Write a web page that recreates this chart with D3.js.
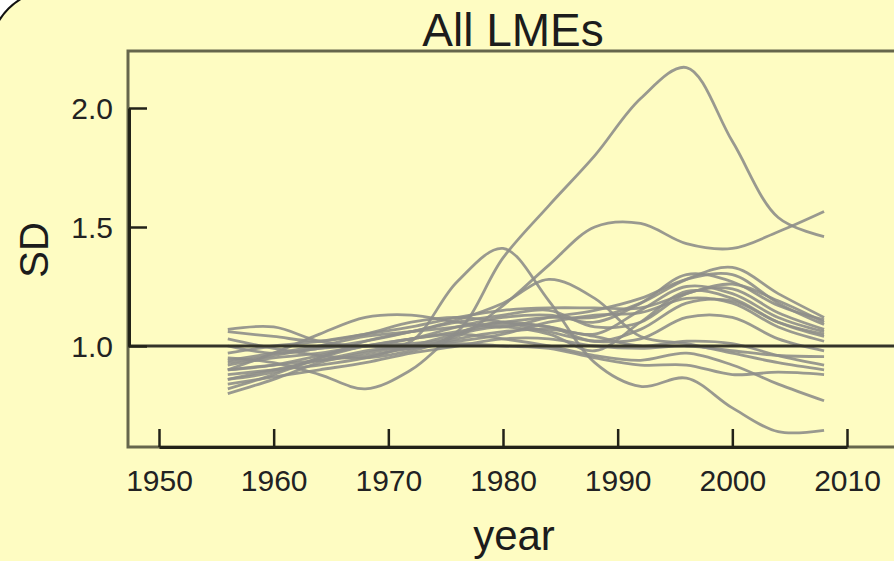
<!DOCTYPE html>
<html>
<head>
<meta charset="utf-8">
<script src="https://cdn.jsdelivr.net/npm/d3@7"></script>
<style>
  html, body { margin: 0; padding: 0; background: #ffffff; }
  svg { display: block; }
</style>
</head>
<body>
<div id="chart"></div>
<script>
// Smoothed SD trajectories per LME at 4-year knots
const years = [1956, 1960, 1964, 1968, 1972, 1976, 1980, 1984, 1988, 1992, 1996, 2000, 2004, 2008];

const lmeBigPeak = [0.93, 0.96, 0.99, 1.00, 0.99, 1.06, 1.37, 1.59, 1.80, 2.04, 2.17, 1.86, 1.54, 1.46];
const lmeBump80 = [0.86, 0.90, 0.94, 0.98, 1.02, 1.27, 1.41, 1.19, 0.93, 0.83, 0.865, 0.74, 0.64, 0.645];
const lmeSecond = [0.90, 0.92, 0.96, 1.00, 1.01, 1.04, 1.17, 1.34, 1.50, 1.515, 1.43, 1.41, 1.48, 1.565];
const lmeBump85 = [1.00, 0.97, 0.99, 1.02, 1.06, 1.11, 1.18, 1.28, 1.20, 1.04, 1.01, 0.97, 0.93, 0.90];
const lme05 = [1.07, 1.08, 1.02, 1.00, 1.03, 1.08, 1.12, 1.13, 1.10, 1.18, 1.30, 1.27, 1.17, 1.11];
const lme06 = [0.95, 0.93, 0.88, 0.82, 0.90, 1.05, 1.10, 1.08, 1.05, 1.15, 1.25, 1.22, 1.12, 1.06];
const lme07 = [0.90, 0.97, 1.05, 1.12, 1.13, 1.10, 1.08, 1.12, 1.15, 1.20, 1.28, 1.30, 1.18, 1.09];
const lme08 = [0.82, 0.88, 0.95, 1.02, 1.06, 1.10, 1.13, 1.15, 1.08, 1.10, 1.22, 1.24, 1.14, 1.07];
const lme09 = [0.88, 0.90, 0.92, 0.95, 1.00, 1.05, 1.08, 1.05, 0.98, 1.10, 1.23, 1.20, 1.10, 1.04];
const lme10 = [0.94, 0.97, 1.00, 1.04, 1.06, 1.08, 1.10, 1.12, 1.12, 1.18, 1.28, 1.33, 1.22, 1.12];
const lme11 = [0.80, 0.86, 0.93, 0.97, 1.00, 1.02, 1.05, 1.10, 1.13, 1.14, 1.20, 1.18, 1.08, 1.02];
const lme12 = [1.03, 0.99, 0.96, 0.95, 0.98, 1.03, 1.06, 1.07, 1.04, 1.00, 1.02, 1.01, 0.96, 0.92];
const lme13 = [0.92, 0.95, 0.97, 1.00, 1.03, 1.05, 1.03, 1.00, 0.96, 0.94, 0.97, 0.92, 0.84, 0.77];
const lme14 = [0.86, 0.89, 0.95, 1.00, 1.03, 1.06, 1.09, 1.08, 1.02, 1.07, 1.18, 1.19, 1.10, 1.05];
const lme15 = [0.97, 1.00, 1.02, 1.05, 1.08, 1.12, 1.15, 1.16, 1.16, 1.16, 1.22, 1.26, 1.19, 1.10];
const lme16 = [0.84, 0.87, 0.90, 0.93, 0.97, 1.00, 1.03, 1.03, 1.00, 0.99, 1.00, 0.98, 0.96, 0.955];
const lme17 = [1.06, 1.04, 1.02, 1.05, 1.10, 1.12, 1.10, 1.06, 1.02, 1.03, 1.12, 1.12, 1.03, 0.98];
const lme18 = [0.90, 0.92, 0.94, 0.96, 0.99, 1.01, 1.00, 0.99, 0.95, 0.92, 0.92, 0.88, 0.89, 0.88];

const allSeries = [
  lmeBigPeak, lmeBump80, lmeSecond, lmeBump85, lme05, lme06, lme07, lme08, lme09,
  lme10, lme11, lme12, lme13, lme14, lme15, lme16, lme17, lme18
];

const xTicks = [1950, 1960, 1970, 1980, 1990, 2000, 2010];
const yTicks = [1.0, 1.5, 2.0];
const refLevel = 1.0;

const width = 894;
const height = 561;
const BG = '#fefcc2';
const FONT = '"Liberation Sans", Arial, Helvetica, sans-serif';

// Plot box (right edge runs just past the visible window)
const box = { left: 128, top: 51, right: 898, bottom: 447 };

const svg = d3.select('#chart')
  .append('svg')
  .attr('width', width)
  .attr('height', height);

// Yellow panel with rounded corner peeking in at top-left
svg.append('rect')
  .attr('x', -9)
  .attr('y', -9)
  .attr('width', width + 40)
  .attr('height', height + 40)
  .attr('rx', 60)
  .attr('fill', BG)
  .attr('stroke', '#111')
  .attr('stroke-width', 2);

const x = d3.scaleLinear()
  .domain([1950, 2010])
  .range([159, 847]);

const y = d3.scaleLinear()
  .domain([1.0, 2.0])
  .range([346, 108]);

// Box around plot region
svg.append('rect')
  .attr('x', box.left)
  .attr('y', box.top)
  .attr('width', box.right - box.left)
  .attr('height', box.bottom - box.top)
  .attr('fill', 'none')
  .attr('stroke', '#66664c')
  .attr('stroke-width', 3);

// Series lines
const line = d3.line()
  .x((d) => x(d[0]))
  .y((d) => y(d[1]))
  .curve(d3.curveCatmullRom.alpha(0.5));

svg.append('g')
  .attr('class', 'series')
  .selectAll('path')
  .data(allSeries)
  .join('path')
  .attr('d', (vals) => line(vals.map((v, i) => [years[i], v])))
  .attr('fill', 'none')
  .attr('stroke', '#8e8e8a')
  .attr('stroke-opacity', 0.9)
  .attr('stroke-width', 2.8);

// Reference line at SD = 1
svg.append('line')
  .attr('x1', box.left)
  .attr('x2', width)
  .attr('y1', y(refLevel))
  .attr('y2', y(refLevel))
  .attr('stroke', '#34342a')
  .attr('stroke-width', 3);

// Axes (ticks point inward, axis line only spans the ticks)
const xAxis = d3.axisBottom(x)
  .tickValues(xTicks)
  .tickFormat(d3.format('d'))
  .tickSizeInner(-18)
  .tickSizeOuter(0)
  .tickPadding(23);

const gx = svg.append('g')
  .attr('transform', `translate(0,${box.bottom})`)
  .call(xAxis);

const yAxis = d3.axisLeft(y)
  .tickValues(yTicks)
  .tickFormat(d3.format('.1f'))
  .tickSizeInner(-18)
  .tickSizeOuter(0)
  .tickPadding(16);

const gy = svg.append('g')
  .attr('transform', `translate(${box.left + 1},0)`)
  .call(yAxis);

[gx, gy].forEach((g) => {
  g.select('.domain').attr('stroke', '#222218').attr('stroke-width', 3);
  g.selectAll('.tick line').attr('stroke', '#222218').attr('stroke-width', 2.5);
  g.selectAll('.tick text')
    .attr('fill', '#222')
    .style('font-family', FONT)
    .style('font-size', '30px');
});

gy.selectAll('.tick text').attr('dy', '0.36em');

// Titles
svg.append('text')
  .attr('x', 513)
  .attr('y', 46)
  .attr('text-anchor', 'middle')
  .attr('fill', '#1c1c1c')
  .style('font-family', FONT)
  .style('font-size', '46px')
  .text('All LMEs');

svg.append('text')
  .attr('x', 514)
  .attr('y', 550)
  .attr('text-anchor', 'middle')
  .attr('fill', '#1c1c1c')
  .style('font-family', FONT)
  .style('font-size', '42px')
  .text('year');

svg.append('text')
  .attr('transform', `translate(48,250) rotate(-90)`)
  .attr('text-anchor', 'middle')
  .attr('fill', '#1c1c1c')
  .style('font-family', FONT)
  .style('font-size', '40px')
  .text('SD');
</script>
</body>
</html>
